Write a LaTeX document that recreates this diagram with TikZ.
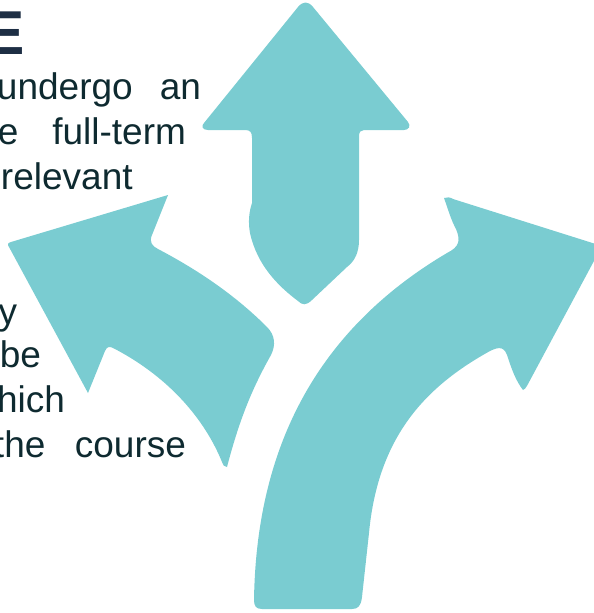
\documentclass[tikz,border=0pt]{standalone}
\usepackage{fontspec}
\setmainfont{Liberation Sans}
\definecolor{arrowteal}{HTML}{7ACCD1}
\definecolor{bodyink}{HTML}{0E2A30}
\definecolor{headink}{HTML}{1D2E44}
\tikzset{
  arrowshape/.style={fill=arrowteal,draw=none},
  bodyline/.style={anchor=base west,inner sep=0pt,outer sep=0pt,text=bodyink,font=\fontsize{37}{37}\selectfont},
  bodyright/.style={anchor=base east,inner sep=0pt,outer sep=0pt,text=bodyink,font=\fontsize{37}{37}\selectfont},
  headline/.style={anchor=base east,inner sep=0pt,outer sep=0pt,text=headink,font=\bfseries\fontsize{62}{62}\selectfont}
}
\begin{document}
\begin{tikzpicture}[x=1pt,y=-1pt]
\useasboundingbox (0,0) rectangle (594,613);
\clip (0,0) rectangle (594,613);
% text
\node[headline] (head) at (25,54) {E};
\node[bodyline] (l1) at (-3,99) {\makebox[204pt][s]{undergo\hfill an}};
\node[bodyline] (l2) at (-2,144) {\makebox[188pt][s]{e\hfill full-term}};
\node[bodyline] (l3) at (1,189) {relevant};
\node[bodyright] (l4) at (17,324) {y};
\node[bodyright] (l5) at (41,367) {be};
\node[bodyright] (l6) at (65,412) {hich};
\node[bodyright] (l7) at (186,457) {\makebox[192pt][s]{the\hfill course}};
% up arrow
\fill[arrowshape] (298,7) .. controls (303,1) and (308,1) .. (313,7)
  -- (408,122) .. controls (411,126) and (409,130) .. (404,130)
  -- (364,130) .. controls (361,130) and (359,132) .. (359,136)
  -- (359,240) .. controls (359,252) and (355,261) .. (347,267)
  -- (312,300) .. controls (306,306) and (302,305) .. (298,301)
  .. controls (278,286) and (257,265) .. (250,233)
  .. controls (248,222) and (249,212) .. (252,203)
  -- (252,138) .. controls (252,132) and (250,130) .. (245,130)
  -- (208,130) .. controls (202,130) and (201,126) .. (204,123) -- cycle;
% left arrow
\fill[arrowshape] (11,242) -- (168,195) -- (152,235)
  .. controls (149,242) and (152,246) .. (158,249)
  .. controls (198,270) and (235,295) .. (267,327)
  .. controls (275,335) and (276,345) .. (271,355)
  .. controls (250,392) and (238,425) .. (227,467)
  .. controls (224,467) and (223,465) .. (222,462)
  .. controls (205,420) and (170,378) .. (115,349)
  .. controls (110,346) and (107,346) .. (105,351)
  -- (88,393) -- (9,247) .. controls (7,244) and (8,243) .. (11,242) -- cycle;
% right arrow
\fill[arrowshape] (254,600) .. controls (256,470) and (300,340) .. (447,253)
  .. controls (459,247) and (461,241) .. (456,229)
  .. controls (451,220) and (448,209) .. (444,198)
  .. controls (447,197) and (450,197) .. (453,199)
  -- (602,246) -- (528,384) .. controls (526,388) and (524,390) .. (523,390)
  .. controls (516,381) and (512,370) .. (508,358)
  .. controls (505,347) and (500,346) .. (490,351)
  .. controls (425,387) and (378,437) .. (369,533)
  -- (362,597) .. controls (361,606) and (358,609) .. (352,609)
  -- (262,609) .. controls (256,609) and (254,606) .. (254,600) -- cycle;
\end{tikzpicture}
\end{document}
